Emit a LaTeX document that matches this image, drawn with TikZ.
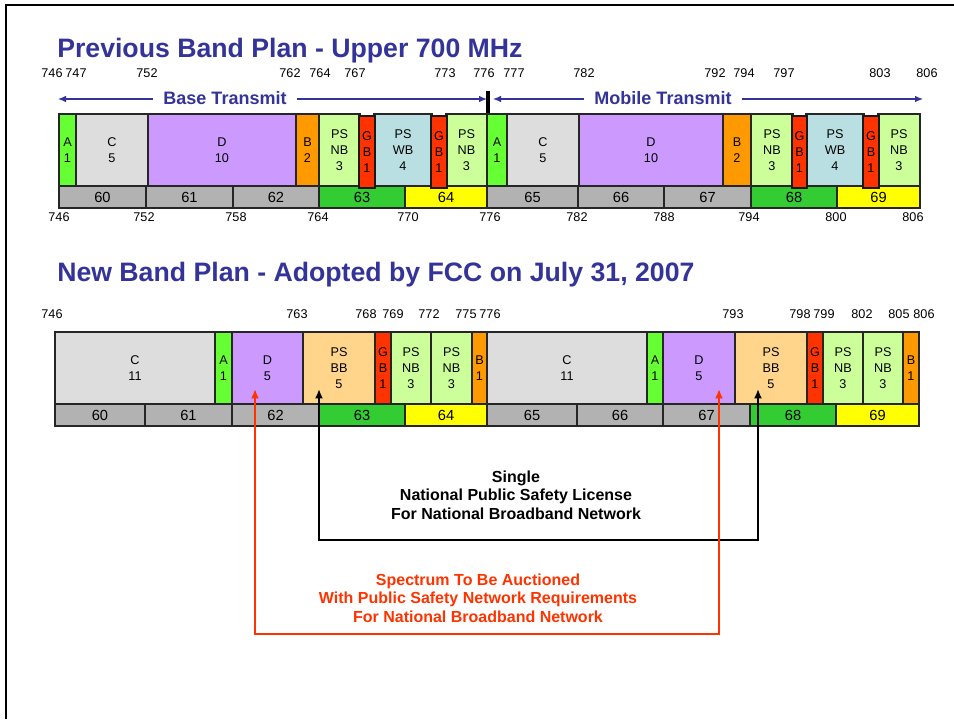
\documentclass[tikz,border=0pt]{standalone}
\usepackage{fontspec}
\setmainfont{Liberation Sans}
\usetikzlibrary{arrows.meta}
\definecolor{tblue}{HTML}{333399}
\definecolor{cA}{HTML}{66FF33}
\definecolor{cC}{HTML}{DDDDDD}
\definecolor{cD}{HTML}{CC99FF}
\definecolor{cB}{HTML}{FF9900}
\definecolor{cNB}{HTML}{CCFF99}
\definecolor{cGB}{HTML}{FF3300}
\definecolor{cWB}{HTML}{B9DFE2}
\definecolor{cBB}{HTML}{FFD58C}
\definecolor{chgray}{HTML}{B2B2B2}
\definecolor{chgreen}{HTML}{33CC33}
\definecolor{chyellow}{HTML}{FFFF00}
\definecolor{redtxt}{HTML}{FF3300}
\tikzset{
  x=0.75pt, y=-0.75pt,
  blk/.style={draw=black!85, line width=0.8pt, inner sep=0pt, outer sep=0pt, align=center,
    font=\fontsize{9.5}{12.2}\selectfont},
  chn/.style={font=\fontsize{11}{13}\selectfont},
  gbold/.style={line width=1.3pt, draw=black!90},
  flab/.style={font=\fontsize{9.5}{11}\selectfont, inner sep=0pt},
  ttl/.style={font=\bfseries\fontsize{20}{24}\selectfont, text=tblue, inner sep=0pt, anchor=base west},
  trans/.style={font=\bfseries\fontsize{13.5}{16}\selectfont, text=tblue, inner xsep=7.5pt, inner ysep=0pt},
  tarrow/.style={draw=tblue, line width=0.9pt, -{Latex[length=6pt,width=5pt]}},
  conn/.style={line width=2pt, {Latex[length=7pt,width=6pt]}-{Latex[length=7pt,width=6pt]}},
  note/.style={font=\bfseries\fontsize{12}{14}\selectfont, align=center, inner sep=0pt},
}
\newcommand\bk[8][]{\node[blk, #1, fill=#7, minimum width={(#4-#3)*0.75pt}, minimum height={(#6-#5)*0.75pt}] (#2) at ({(#3+#4)/2},{(#5+#6)/2}) {#8};}
\begin{document}
\begin{tikzpicture}
\useasboundingbox (0,0) rectangle (954,719);
% frame
\draw[line width=2.2pt] (6,719) -- (6,5) -- (954,5);

% ---------------- previous band plan
\node[ttl] (title1) at (57,57) {Previous Band Plan - Upper 700 MHz};

\foreach \x/\t in {52/746,76/747,147/752,290/762,320/764,355/767,445/773,484/776,514/777,584/782,715/792,744/794,784/797,880/803,927/806}
  \node[flab] (pa\t) at (\x,73) {\t};

\node[trans] (bt) at (225,98) {Base Transmit};
\coordinate (btl) at (58,99);
\coordinate (btr) at (487,99);
\draw[tarrow] (bt.west |- btl) -- (btl);
\draw[tarrow] (bt.east |- btr) -- (btr);
\node[trans] (mt) at (663,98) {Mobile Transmit};
\coordinate (mtl) at (493,99);
\coordinate (mtr) at (923,99);
\draw[tarrow] (mt.west |- mtl) -- (mtl);
\draw[tarrow] (mt.east |- mtr) -- (mtr);
\draw[line width=2.4pt] (488,91) -- (488,113);

\bk{oA1}{59}{76}{114}{186}{cA}{A\\1}
\bk{oC1}{76}{148}{114}{186}{cC}{C\\5}
\bk{oD1}{148}{296}{114}{186}{cD}{D\\10}
\bk{oB1}{296}{319}{114}{186}{cB}{B\\2}
\bk{oN1}{319}{360}{114}{186}{cNB}{PS\\NB\\3}
\bk{oW1}{374}{432}{114}{186}{cWB}{PS\\WB\\4}
\bk{oN2}{446}{487}{114}{186}{cNB}{PS\\NB\\3}
\bk{oA2}{487}{507}{114}{186}{cA}{A\\1}
\bk{oC2}{507}{579}{114}{186}{cC}{C\\5}
\bk{oD2}{579}{723}{114}{186}{cD}{D\\10}
\bk{oB2}{723}{751}{114}{186}{cB}{B\\2}
\bk{oN3}{751}{793}{114}{186}{cNB}{PS\\NB\\3}
\bk{oW2}{806}{864}{114}{186}{cWB}{PS\\WB\\4}
\bk{oN4}{878}{920}{114}{186}{cNB}{PS\\NB\\3}

\bk[chn]{o60}{59}{146}{186}{208}{chgray}{60}
\bk[chn]{o61}{146}{233}{186}{208}{chgray}{61}
\bk[chn]{o62}{233}{319}{186}{208}{chgray}{62}
\bk[chn]{o63}{319}{405}{186}{208}{chgreen}{63}
\bk[chn]{o64}{405}{487}{186}{208}{chyellow}{64}
\bk[chn]{o65}{487}{578}{186}{208}{chgray}{65}
\bk[chn]{o66}{578}{664}{186}{208}{chgray}{66}
\bk[chn]{o67}{664}{751}{186}{208}{chgray}{67}
\bk[chn]{o68}{751}{837}{186}{208}{chgreen}{68}
\bk[chn]{o69}{837}{920}{186}{208}{chyellow}{69}
% guard bands drawn on top
\bk[gbold]{oG1}{359}{375}{116}{188}{cGB}{G\\B\\1}
\bk[gbold]{oG2}{431}{447}{116}{188}{cGB}{G\\B\\1}
\bk[gbold]{oG3}{792}{807}{116}{188}{cGB}{G\\B\\1}
\bk[gbold]{oG4}{863}{879}{116}{188}{cGB}{G\\B\\1}

\foreach \x/\t in {59/746,144/752,236/758,318/764,408/770,490/776,577/782,664/788,749/794,836/800,913/806}
  \node[flab] (pb\t) at (\x,217) {\t};

% ---------------- new band plan
\node[ttl] (title2) at (57,281) {New Band Plan - Adopted by FCC on July 31, 2007};

\foreach \x/\t in {52/746,297/763,366/768,393/769,429/772,466/775,490/776,733/793,800/798,824/799,862/802,899/805,924/806}
  \node[flab] (na\t) at (\x,314) {\t};

\bk{nC1}{55}{215}{332}{404}{cC}{C\\11}
\bk{nA1}{215}{232}{332}{404}{cA}{A\\1}
\bk{nD1}{232}{303}{332}{404}{cD}{D\\5}
\bk{nP1}{303}{375}{332}{404}{cBB}{PS\\BB\\5}
\bk{nG1}{375}{391}{332}{404}{cGB}{G\\B\\1}
\bk{nN1}{391}{431}{332}{404}{cNB}{PS\\NB\\3}
\bk{nN2}{431}{472}{332}{404}{cNB}{PS\\NB\\3}
\bk{nB1}{472}{487}{332}{404}{cB}{B\\1}
\bk{nC2}{487}{647}{332}{404}{cC}{C\\11}
\bk{nA2}{647}{663}{332}{404}{cA}{A\\1}
\bk{nD2}{663}{735}{332}{404}{cD}{D\\5}
\bk{nP2}{735}{807}{332}{404}{cBB}{PS\\BB\\5}
\bk{nG2}{807}{823}{332}{404}{cGB}{G\\B\\1}
\bk{nN3}{823}{863}{332}{404}{cNB}{PS\\NB\\3}
\bk{nN4}{863}{903}{332}{404}{cNB}{PS\\NB\\3}
\bk{nB2}{903}{919}{332}{404}{cB}{B\\1}

\bk[chn]{n60}{55}{145}{404}{426}{chgray}{60}
\bk[chn]{n61}{145}{232}{404}{426}{chgray}{61}
\bk[chn]{n62}{232}{319}{404}{426}{chgray}{62}
\bk[chn]{n63}{319}{405}{404}{426}{chgreen}{63}
\bk[chn]{n64}{405}{487}{404}{426}{chyellow}{64}
\bk[chn]{n65}{487}{577}{404}{426}{chgray}{65}
\bk[chn]{n66}{577}{663}{404}{426}{chgray}{66}
\bk[chn]{n67}{663}{750}{404}{426}{chgray}{67}
\bk[chn]{n68}{750}{836}{404}{426}{chgreen}{68}
\bk[chn]{n69}{836}{919}{404}{426}{chyellow}{69}

% connectors
\coordinate (kL) at (319,389);
\coordinate (kR) at (758,389);
\coordinate (kLc) at (319,540);
\coordinate (kRc) at (758,540);
\draw[conn, black] (kL) -- (kLc) -- (kRc) -- (kR);
\coordinate (rL) at (255,389);
\coordinate (rR) at (719,389);
\coordinate (rLc) at (255,634);
\coordinate (rRc) at (719,634);
\draw[conn, redtxt] (rL) -- (rLc) -- (rRc) -- (rR);

\node[note] (single) at (516,495) {Single\\National Public Safety License\\For National Broadband Network};
\node[note, text=redtxt] (auction) at (478,598) {Spectrum To Be Auctioned\\With Public Safety Network Requirements\\For National Broadband Network};
\end{tikzpicture}
\end{document}
